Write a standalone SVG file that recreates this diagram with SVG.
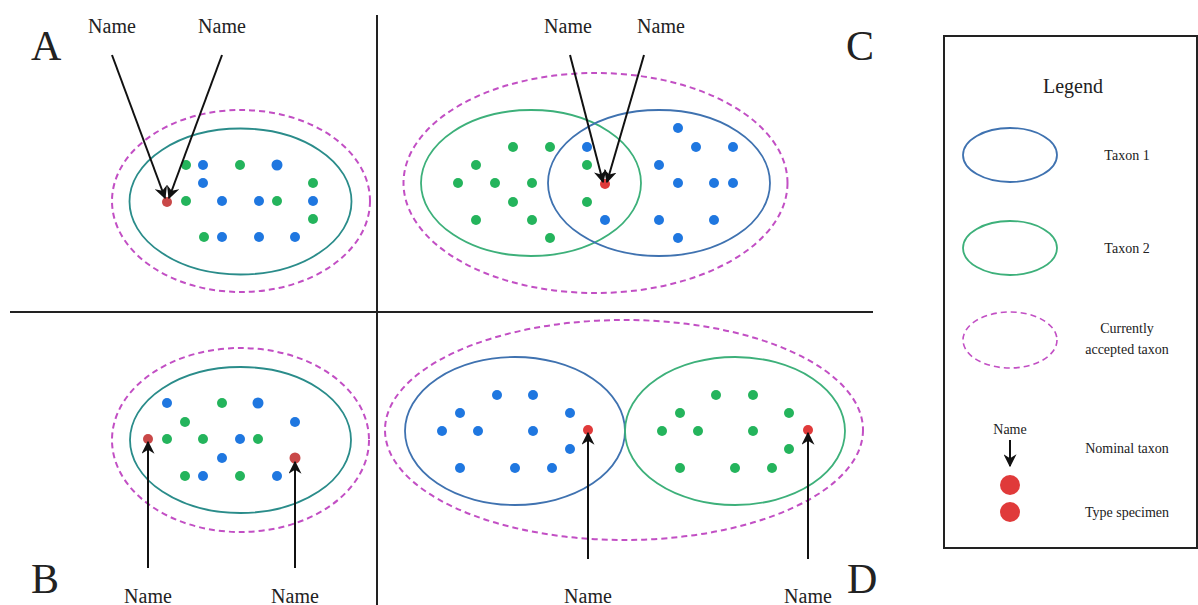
<svg xmlns="http://www.w3.org/2000/svg" width="1198" height="605" viewBox="0 0 1198 605">
<defs>
<marker id="ahl" viewBox="0 0 10 10" refX="9" refY="5" markerWidth="13" markerHeight="13" orient="auto" markerUnits="userSpaceOnUse">
<path d="M0,0 L10,5 L0,10 L3,5 Z" fill="#111"/>
</marker>
</defs>
<style>
text{font-family:"Liberation Serif","Times New Roman",serif;fill:#222}
.lbl{font-size:20px;text-anchor:middle}
.big{font-size:42px}
.leg{font-size:14px;text-anchor:middle}
.acc{fill:none;stroke:#c24fc4;stroke-width:2;stroke-dasharray:6,4}
.teal{fill:none;stroke:#2a8c8a;stroke-width:1.8}
.t1{fill:none;stroke:#3f72b0;stroke-width:1.8}
.t2{fill:none;stroke:#3db07a;stroke-width:1.8}
.b{fill:#1f77e0}
.g{fill:#24b45c}
.r{fill:#e03a3a}
.rd{fill:#c94848}
.div{stroke:#222;stroke-width:2}
.arr{stroke:#111;stroke-width:2;fill:none;marker-end:url(#ahl)}
</style>
<rect width="1198" height="605" fill="#fff"/>
<g id="dividers">
<line class="div" x1="377" y1="15" x2="377" y2="605"/>
<line class="div" x1="10" y1="312" x2="873" y2="312"/>
</g>
<g id="panelA">
<text class="big" x="31" y="60">A</text>
<ellipse class="acc" cx="241" cy="201" rx="129" ry="91"/>
<ellipse class="teal" cx="240.5" cy="201.5" rx="111" ry="73"/>
<circle class="g" cx="186" cy="165" r="5"/><circle class="b" cx="203" cy="165" r="5"/><circle class="g" cx="240" cy="165" r="5"/><circle class="b" cx="277" cy="165" r="5.5"/>
<circle class="b" cx="203" cy="183" r="5"/><circle class="g" cx="313" cy="183" r="5"/>
<circle class="g" cx="186" cy="201" r="5"/><circle class="b" cx="222" cy="201" r="5"/><circle class="b" cx="259" cy="201" r="5"/><circle class="g" cx="277" cy="201" r="5"/><circle class="b" cx="313" cy="201" r="5"/>
<circle class="g" cx="313" cy="219" r="5"/>
<circle class="g" cx="204" cy="237" r="5"/><circle class="b" cx="222" cy="237" r="5"/><circle class="b" cx="259" cy="237" r="5"/><circle class="b" cx="295" cy="237" r="5"/>
<circle class="rd" cx="167" cy="202" r="5"/>
</g>
<g id="panelC">
<text class="big" x="846" y="60">C</text>
<ellipse class="acc" cx="595.5" cy="183" rx="192" ry="110"/>
<ellipse class="t2" cx="531" cy="183" rx="110" ry="73"/>
<ellipse class="t1" cx="659" cy="183" rx="111" ry="73"/>
<circle class="g" cx="513" cy="147" r="5"/><circle class="g" cx="550" cy="147" r="5"/><circle class="g" cx="476" cy="165" r="5"/><circle class="g" cx="587" cy="165" r="5"/>
<circle class="g" cx="458" cy="183" r="5"/><circle class="g" cx="495" cy="183" r="5"/><circle class="g" cx="532" cy="183" r="5"/>
<circle class="g" cx="513" cy="202" r="5"/><circle class="g" cx="587" cy="202" r="5"/><circle class="g" cx="476" cy="220" r="5"/><circle class="g" cx="532" cy="220" r="5"/><circle class="g" cx="550" cy="238" r="5"/>
<circle class="b" cx="587" cy="147" r="5"/><circle class="b" cx="678" cy="128" r="5"/><circle class="b" cx="696" cy="147" r="5"/><circle class="b" cx="733" cy="147" r="5"/>
<circle class="b" cx="659" cy="165" r="5"/><circle class="b" cx="678" cy="183" r="5"/><circle class="b" cx="714" cy="183" r="5"/><circle class="b" cx="733" cy="183" r="5"/>
<circle class="b" cx="605" cy="220" r="5"/><circle class="b" cx="659" cy="220" r="5"/><circle class="b" cx="714" cy="220" r="5"/><circle class="b" cx="678" cy="238" r="5"/>
<circle class="r" cx="605" cy="184" r="5"/>
</g>
<g id="panelB">
<text class="big" x="31" y="593">B</text>
<ellipse class="acc" cx="240.5" cy="440" rx="128.5" ry="92"/>
<ellipse class="teal" cx="240.5" cy="440" rx="110.5" ry="73"/>
<circle class="b" cx="167" cy="403" r="5"/><circle class="g" cx="222" cy="403" r="5"/><circle class="b" cx="258" cy="403" r="5.5"/>
<circle class="g" cx="185" cy="422" r="5"/><circle class="b" cx="295" cy="422" r="5"/>
<circle class="g" cx="167" cy="439" r="5"/><circle class="g" cx="203" cy="439" r="5"/><circle class="b" cx="240" cy="439" r="5"/><circle class="g" cx="258" cy="439" r="5"/>
<circle class="b" cx="222" cy="458" r="5"/>
<circle class="g" cx="185" cy="476" r="5"/><circle class="b" cx="203" cy="476" r="5"/><circle class="g" cx="240" cy="476" r="5"/><circle class="b" cx="277" cy="476" r="5"/>
<circle class="rd" cx="148" cy="439" r="5"/><circle class="rd" cx="295" cy="458" r="5.5"/>
</g>
<g id="panelD">
<text class="big" x="847" y="593">D</text>
<ellipse class="acc" cx="624" cy="430" rx="239" ry="110"/>
<ellipse class="t1" cx="515" cy="431" rx="110" ry="74"/>
<ellipse class="t2" cx="735" cy="431" rx="110" ry="74"/>
<circle class="b" cx="497" cy="395" r="5"/><circle class="b" cx="533" cy="395" r="5"/><circle class="b" cx="460" cy="413" r="5"/><circle class="b" cx="570" cy="413" r="5"/>
<circle class="b" cx="442" cy="431" r="5"/><circle class="b" cx="478" cy="431" r="5"/><circle class="b" cx="533" cy="431" r="5"/><circle class="b" cx="570" cy="449" r="5"/>
<circle class="b" cx="460" cy="468" r="5"/><circle class="b" cx="515" cy="468" r="5"/><circle class="b" cx="552" cy="468" r="5"/>
<circle class="g" cx="716" cy="395" r="5"/><circle class="g" cx="753" cy="395" r="5"/><circle class="g" cx="680" cy="413" r="5"/><circle class="g" cx="789" cy="413" r="5"/>
<circle class="g" cx="662" cy="431" r="5"/><circle class="g" cx="698" cy="431" r="5"/><circle class="g" cx="753" cy="431" r="5"/><circle class="g" cx="789" cy="449" r="5"/>
<circle class="g" cx="680" cy="468" r="5"/><circle class="g" cx="735" cy="468" r="5"/><circle class="g" cx="772" cy="468" r="5"/>
<circle class="r" cx="588" cy="430" r="5"/><circle class="r" cx="808" cy="430" r="5"/>
</g>
<g id="names">
<text class="lbl" x="112" y="33">Name</text>
<text class="lbl" x="222" y="33">Name</text>
<text class="lbl" x="568" y="33">Name</text>
<text class="lbl" x="661" y="33">Name</text>
<text class="lbl" x="148" y="603">Name</text>
<text class="lbl" x="295" y="603">Name</text>
<text class="lbl" x="588" y="603">Name</text>
<text class="lbl" x="808" y="603">Name</text>
</g>
<g id="connectors">
<line class="arr" x1="112" y1="55" x2="165" y2="198"/>
<line class="arr" x1="222" y1="55" x2="169" y2="198"/>
<line class="arr" x1="570" y1="55" x2="603" y2="182"/>
<line class="arr" x1="644" y1="55" x2="607" y2="182"/>
<line class="arr" x1="148" y1="568" x2="148" y2="442"/>
<line class="arr" x1="295" y1="568" x2="295" y2="462"/>
<line class="arr" x1="588" y1="559" x2="588" y2="433"/>
<line class="arr" x1="808" y1="559" x2="808" y2="433"/>
</g>
<g id="legend">
<rect x="944" y="36" width="253" height="512" fill="none" stroke="#222" stroke-width="2"/>
<text x="1073" y="93" style="font-size:20px;text-anchor:middle">Legend</text>
<ellipse class="t1" cx="1010" cy="155" rx="47" ry="27"/>
<text class="leg" x="1127" y="160">Taxon 1</text>
<ellipse class="t2" cx="1010" cy="248" rx="47" ry="27"/>
<text class="leg" x="1127" y="253">Taxon 2</text>
<ellipse class="acc" cx="1010" cy="340" rx="47" ry="28" style="stroke-width:1.6"/>
<text class="leg" x="1127" y="333">Currently</text>
<text class="leg" x="1127" y="354">accepted taxon</text>
<text class="leg" x="1010" y="434">Name</text>
<line x1="1010" y1="440" x2="1010" y2="466" stroke="#111" stroke-width="2" marker-end="url(#ahl)"/>
<circle class="r" cx="1010" cy="485" r="10"/>
<text class="leg" x="1127" y="453">Nominal taxon</text>
<circle class="r" cx="1010" cy="512" r="10"/>
<text class="leg" x="1127" y="517">Type specimen</text>
</g>
</svg>
